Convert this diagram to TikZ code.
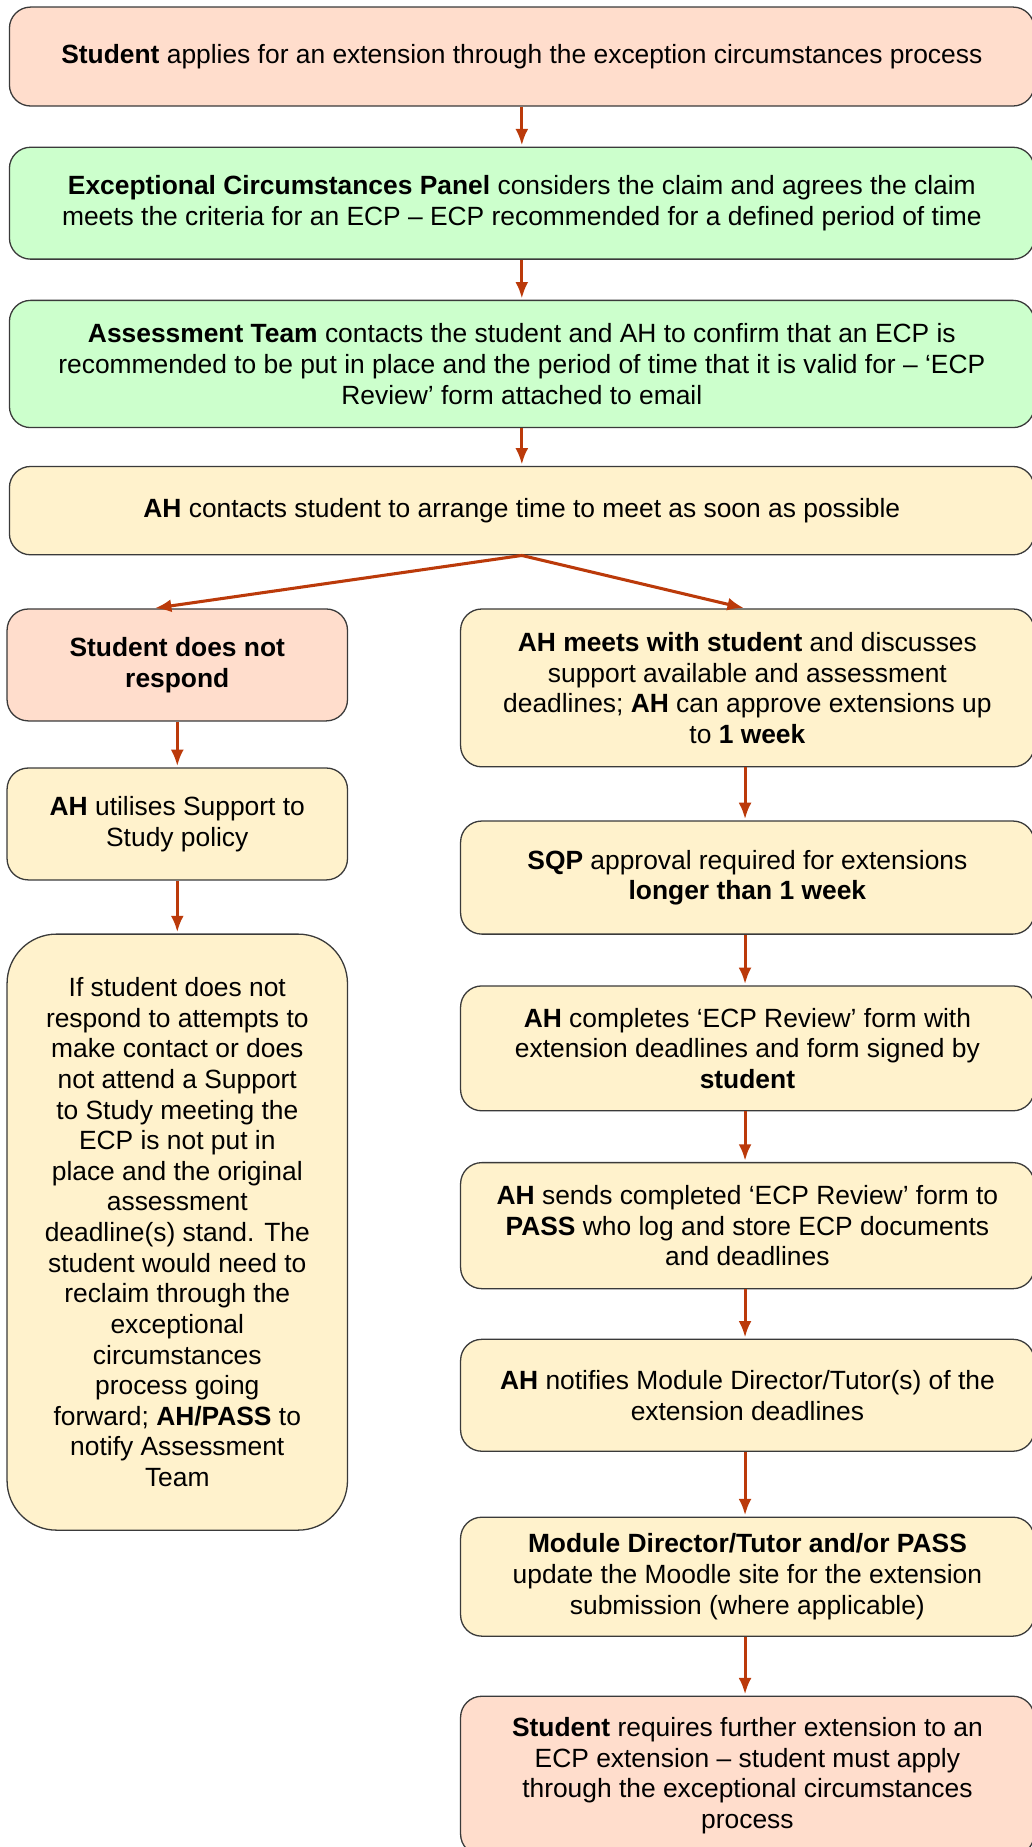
\documentclass[tikz,border=0pt]{standalone}
\usepackage{fontspec}
\setmainfont{Liberation Sans}
\usetikzlibrary{arrows.meta}
\definecolor{salmon}{HTML}{FFDDCC}
\definecolor{mint}{HTML}{CCFFCC}
\definecolor{cream}{HTML}{FFF2CC}
\definecolor{edgegray}{HTML}{3A3A3A}
\definecolor{rust}{HTML}{BB3A0A}
\begin{document}
\begin{tikzpicture}[x=1pt,y=1pt,>={Latex[length=14pt,width=11pt]},shorten >=1pt,
  box/.style={rectangle,rounded corners=18pt,draw=edgegray,line width=1.1pt,align=center,
    inner sep=0pt,font=\fontsize{22.4}{26}\selectfont},
  link/.style={->,draw=rust,line width=2.6pt}]
  \useasboundingbox (0,0) rectangle (876,-1568);

  \node[box,fill=salmon,minimum width=870,minimum height=84] (apply) at (443,-48)
    {\textbf{Student} applies for an extension through the exception circumstances process};
  \node[box,fill=mint,minimum width=870,minimum height=95] (panel) at (443,-172.5)
    {\textbf{Exceptional Circumstances Panel} considers the claim and agrees the claim\\
     meets the criteria for an ECP -- ECP recommended for a defined period of time};
  \node[box,fill=mint,minimum width=870,minimum height=108] (team) at (443,-309)
    {\textbf{Assessment Team} contacts the student and AH to confirm that an ECP is\\
     recommended to be put in place and the period of time that it is valid for -- `ECP\\
     Review' form attached to email};
  \node[box,fill=cream,minimum width=870,minimum height=75] (contact) at (443,-433.5)
    {\textbf{AH} contacts student to arrange time to meet as soon as possible};

  % left branch
  \node[box,fill=salmon,minimum width=289,minimum height=95] (nores) at (150.5,-564.5)
    {\textbf{Student does not}\\ \textbf{respond}};
  \node[box,fill=cream,minimum width=289,minimum height=95] (policy) at (150.5,-699.5)
    {\textbf{AH} utilises Support to\\ Study policy};
  \node[box,fill=cream,rounded corners=42pt,minimum width=289,minimum height=506] (lapse) at (150.5,-1046)
    {If student does not\\ respond to attempts to\\ make contact or does\\ not attend a Support\\
     to Study meeting the\\ ECP is not put in\\ place and the original\\ assessment\\
     deadline(s) stand. The\\ student would need to\\ reclaim through the\\ exceptional\\
     circumstances\\ process going\\ forward; \textbf{AH/PASS} to\\ notify Assessment\\ Team};

  % right branch
  \node[box,fill=cream,minimum width=487,minimum height=134] (meet) at (634.5,-584)
    {\textbf{AH meets with student} and discusses\\ support available and assessment\\
     deadlines; \textbf{AH} can approve extensions up\\ to \textbf{1 week}};
  \node[box,fill=cream,minimum width=487,minimum height=96] (sqp) at (634.5,-745)
    {\textbf{SQP} approval required for extensions\\ \textbf{longer than 1 week}};
  \node[box,fill=cream,minimum width=487,minimum height=106] (review) at (634.5,-890)
    {\textbf{AH} completes `ECP Review' form with\\ extension deadlines and form signed by\\
     \textbf{student}};
  \node[box,fill=cream,minimum width=487,minimum height=107] (sends) at (634.5,-1040.5)
    {\textbf{AH} sends completed `ECP Review' form to\\ \textbf{PASS} who log and store ECP documents\\
     and deadlines};
  \node[box,fill=cream,minimum width=487,minimum height=95] (notify) at (634.5,-1184.5)
    {\textbf{AH} notifies Module Director/Tutor(s) of the\\ extension deadlines};
  \node[box,fill=cream,minimum width=487,minimum height=101] (moodle) at (634.5,-1338.5)
    {\textbf{Module Director/Tutor and/or PASS}\\ update the Moodle site for the extension\\
     submission (where applicable)};
  \node[box,fill=salmon,minimum width=487,minimum height=135] (further) at (634.5,-1507.5)
    {\textbf{Student} requires further extension to an\\ ECP extension -- student must apply\\
     through the exceptional circumstances\\ process};

  \path
    (apply.south) edge[link] (panel.north)
    (panel.south) edge[link] (team.north)
    (team.south) edge[link] (contact.north)
    (contact.south) edge[link] ([xshift=-20]nores.north)
    (contact.south) edge[link] ([xshift=-2]meet.north)
    (nores.south) edge[link] (policy.north)
    (policy.south) edge[link] (lapse.north)
    ([xshift=-2]meet.south) edge[link] ([xshift=-2]sqp.north)
    ([xshift=-2]sqp.south) edge[link] ([xshift=-2]review.north)
    ([xshift=-2]review.south) edge[link] ([xshift=-2]sends.north)
    ([xshift=-2]sends.south) edge[link] ([xshift=-2]notify.north)
    ([xshift=-2]notify.south) edge[link] ([xshift=-2]moodle.north)
    ([xshift=-2]moodle.south) edge[link] ([xshift=-2]further.north);
\end{tikzpicture}
\end{document}
